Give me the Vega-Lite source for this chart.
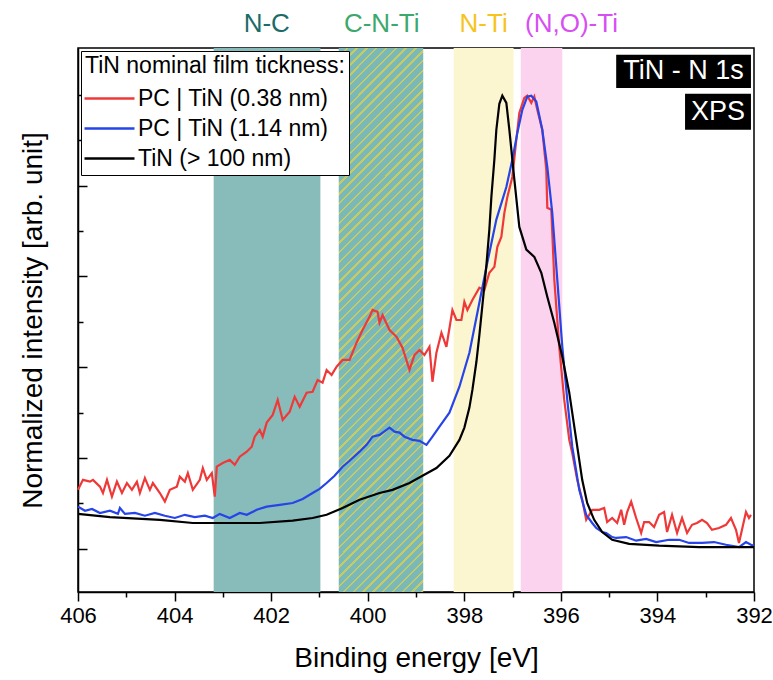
{
"$schema": "https://vega.github.io/schema/vega-lite/v6.json",
"width": 676, "height": 544,
"autosize": {"type": "none"},
"padding": {"left": 78, "top": 48, "right": 19, "bottom": 88},
"background": "white",
"config": {"view": {"stroke": "black", "strokeWidth": 1.5}, "axis": {"grid": false}, "font": "Liberation Sans"},
"datasets": {
"bands": [
{"band": "N-C", "start": 403.19, "end": 400.98},
{"band": "C-N-Ti", "start": 400.6, "end": 398.85},
{"band": "N-Ti", "start": 398.22, "end": 396.98},
{"band": "(N,O)-Ti", "start": 396.83, "end": 395.97}
],
"labels": [
{"label": "N-C", "energy": 402.09},
{"label": "C-N-Ti", "energy": 399.71},
{"label": "N-Ti", "energy": 397.6},
{"label": "(N,O)-Ti", "energy": 395.78}
],
"spectra": [
{"series":"PC | TiN (0.38 nm)","energy":406.000,"intensity":0.130},
{"series":"PC | TiN (0.38 nm)","energy":405.897,"intensity":0.152},
{"series":"PC | TiN (0.38 nm)","energy":405.752,"intensity":0.148},
{"series":"PC | TiN (0.38 nm)","energy":405.690,"intensity":0.152},
{"series":"PC | TiN (0.38 nm)","energy":405.545,"intensity":0.137},
{"series":"PC | TiN (0.38 nm)","energy":405.483,"intensity":0.123},
{"series":"PC | TiN (0.38 nm)","energy":405.400,"intensity":0.152},
{"series":"PC | TiN (0.38 nm)","energy":405.297,"intensity":0.115},
{"series":"PC | TiN (0.38 nm)","energy":405.194,"intensity":0.148},
{"series":"PC | TiN (0.38 nm)","energy":405.090,"intensity":0.123},
{"series":"PC | TiN (0.38 nm)","energy":404.987,"intensity":0.145},
{"series":"PC | TiN (0.38 nm)","energy":404.883,"intensity":0.130},
{"series":"PC | TiN (0.38 nm)","energy":404.780,"intensity":0.148},
{"series":"PC | TiN (0.38 nm)","energy":404.718,"intensity":0.123},
{"series":"PC | TiN (0.38 nm)","energy":404.615,"intensity":0.156},
{"series":"PC | TiN (0.38 nm)","energy":404.511,"intensity":0.130},
{"series":"PC | TiN (0.38 nm)","energy":404.449,"intensity":0.145},
{"series":"PC | TiN (0.38 nm)","energy":404.304,"intensity":0.123},
{"series":"PC | TiN (0.38 nm)","energy":404.201,"intensity":0.104},
{"series":"PC | TiN (0.38 nm)","energy":404.098,"intensity":0.130},
{"series":"PC | TiN (0.38 nm)","energy":403.953,"intensity":0.137},
{"series":"PC | TiN (0.38 nm)","energy":403.891,"intensity":0.159},
{"series":"PC | TiN (0.38 nm)","energy":403.787,"intensity":0.148},
{"series":"PC | TiN (0.38 nm)","energy":403.725,"intensity":0.167},
{"series":"PC | TiN (0.38 nm)","energy":403.622,"intensity":0.130},
{"series":"PC | TiN (0.38 nm)","energy":403.477,"intensity":0.152},
{"series":"PC | TiN (0.38 nm)","energy":403.415,"intensity":0.178},
{"series":"PC | TiN (0.38 nm)","energy":403.333,"intensity":0.152},
{"series":"PC | TiN (0.38 nm)","energy":403.229,"intensity":0.167},
{"series":"PC | TiN (0.38 nm)","energy":403.167,"intensity":0.115},
{"series":"PC | TiN (0.38 nm)","energy":403.126,"intensity":0.181},
{"series":"PC | TiN (0.38 nm)","energy":403.002,"intensity":0.189},
{"series":"PC | TiN (0.38 nm)","energy":402.857,"intensity":0.196},
{"series":"PC | TiN (0.38 nm)","energy":402.754,"intensity":0.185},
{"series":"PC | TiN (0.38 nm)","energy":402.650,"intensity":0.203},
{"series":"PC | TiN (0.38 nm)","energy":402.505,"intensity":0.214},
{"series":"PC | TiN (0.38 nm)","energy":402.402,"intensity":0.225},
{"series":"PC | TiN (0.38 nm)","energy":402.340,"intensity":0.247},
{"series":"PC | TiN (0.38 nm)","energy":402.237,"intensity":0.262},
{"series":"PC | TiN (0.38 nm)","energy":402.175,"intensity":0.247},
{"series":"PC | TiN (0.38 nm)","energy":402.092,"intensity":0.278},
{"series":"PC | TiN (0.38 nm)","energy":401.968,"intensity":0.295},
{"series":"PC | TiN (0.38 nm)","energy":401.864,"intensity":0.328},
{"series":"PC | TiN (0.38 nm)","energy":401.761,"intensity":0.284},
{"series":"PC | TiN (0.38 nm)","energy":401.616,"intensity":0.302},
{"series":"PC | TiN (0.38 nm)","energy":401.513,"intensity":0.335},
{"series":"PC | TiN (0.38 nm)","energy":401.409,"intensity":0.313},
{"series":"PC | TiN (0.38 nm)","energy":401.265,"intensity":0.344},
{"series":"PC | TiN (0.38 nm)","energy":401.141,"intensity":0.346},
{"series":"PC | TiN (0.38 nm)","energy":401.037,"intensity":0.372},
{"series":"PC | TiN (0.38 nm)","energy":400.934,"intensity":0.366},
{"series":"PC | TiN (0.38 nm)","energy":400.851,"intensity":0.394},
{"series":"PC | TiN (0.38 nm)","energy":400.748,"intensity":0.383},
{"series":"PC | TiN (0.38 nm)","energy":400.644,"intensity":0.401},
{"series":"PC | TiN (0.38 nm)","energy":400.520,"intensity":0.416},
{"series":"PC | TiN (0.38 nm)","energy":400.376,"intensity":0.416},
{"series":"PC | TiN (0.38 nm)","energy":400.231,"intensity":0.454},
{"series":"PC | TiN (0.38 nm)","energy":400.107,"intensity":0.482},
{"series":"PC | TiN (0.38 nm)","energy":399.962,"intensity":0.511},
{"series":"PC | TiN (0.38 nm)","energy":399.900,"intensity":0.526},
{"series":"PC | TiN (0.38 nm)","energy":399.797,"intensity":0.522},
{"series":"PC | TiN (0.38 nm)","energy":399.755,"intensity":0.498},
{"series":"PC | TiN (0.38 nm)","energy":399.693,"intensity":0.515},
{"series":"PC | TiN (0.38 nm)","energy":399.548,"intensity":0.482},
{"series":"PC | TiN (0.38 nm)","energy":399.404,"intensity":0.467},
{"series":"PC | TiN (0.38 nm)","energy":399.280,"intensity":0.443},
{"series":"PC | TiN (0.38 nm)","energy":399.135,"intensity":0.394},
{"series":"PC | TiN (0.38 nm)","energy":399.031,"intensity":0.427},
{"series":"PC | TiN (0.38 nm)","energy":398.928,"intensity":0.438},
{"series":"PC | TiN (0.38 nm)","energy":398.825,"intensity":0.427},
{"series":"PC | TiN (0.38 nm)","energy":398.721,"intensity":0.445},
{"series":"PC | TiN (0.38 nm)","energy":398.659,"intensity":0.368},
{"series":"PC | TiN (0.38 nm)","energy":398.577,"intensity":0.432},
{"series":"PC | TiN (0.38 nm)","energy":398.473,"intensity":0.476},
{"series":"PC | TiN (0.38 nm)","energy":398.370,"intensity":0.445},
{"series":"PC | TiN (0.38 nm)","energy":398.246,"intensity":0.526},
{"series":"PC | TiN (0.38 nm)","energy":398.163,"intensity":0.504},
{"series":"PC | TiN (0.38 nm)","energy":398.060,"intensity":0.504},
{"series":"PC | TiN (0.38 nm)","energy":397.998,"intensity":0.544},
{"series":"PC | TiN (0.38 nm)","energy":397.935,"intensity":0.526},
{"series":"PC | TiN (0.38 nm)","energy":397.832,"intensity":0.548},
{"series":"PC | TiN (0.38 nm)","energy":397.687,"intensity":0.575},
{"series":"PC | TiN (0.38 nm)","energy":397.584,"intensity":0.570},
{"series":"PC | TiN (0.38 nm)","energy":397.481,"intensity":0.608},
{"series":"PC | TiN (0.38 nm)","energy":397.377,"intensity":0.621},
{"series":"PC | TiN (0.38 nm)","energy":397.315,"intensity":0.665},
{"series":"PC | TiN (0.38 nm)","energy":397.233,"intensity":0.687},
{"series":"PC | TiN (0.38 nm)","energy":397.170,"intensity":0.740},
{"series":"PC | TiN (0.38 nm)","energy":397.108,"intensity":0.775},
{"series":"PC | TiN (0.38 nm)","energy":397.005,"intensity":0.819},
{"series":"PC | TiN (0.38 nm)","energy":396.922,"intensity":0.901},
{"series":"PC | TiN (0.38 nm)","energy":396.860,"intensity":0.960},
{"series":"PC | TiN (0.38 nm)","energy":396.757,"intensity":0.993},
{"series":"PC | TiN (0.38 nm)","energy":396.695,"intensity":0.998},
{"series":"PC | TiN (0.38 nm)","energy":396.612,"intensity":0.982},
{"series":"PC | TiN (0.38 nm)","energy":396.550,"intensity":0.996},
{"series":"PC | TiN (0.38 nm)","energy":396.488,"intensity":0.967},
{"series":"PC | TiN (0.38 nm)","energy":396.385,"intensity":0.923},
{"series":"PC | TiN (0.38 nm)","energy":396.302,"intensity":0.835},
{"series":"PC | TiN (0.38 nm)","energy":396.281,"intensity":0.751},
{"series":"PC | TiN (0.38 nm)","energy":396.198,"intensity":0.747},
{"series":"PC | TiN (0.38 nm)","energy":396.136,"intensity":0.593},
{"series":"PC | TiN (0.38 nm)","energy":396.033,"intensity":0.445},
{"series":"PC | TiN (0.38 nm)","energy":395.930,"intensity":0.328},
{"series":"PC | TiN (0.38 nm)","energy":395.826,"intensity":0.240},
{"series":"PC | TiN (0.38 nm)","energy":395.764,"intensity":0.211},
{"series":"PC | TiN (0.38 nm)","energy":395.661,"intensity":0.152},
{"series":"PC | TiN (0.38 nm)","energy":395.558,"intensity":0.108},
{"series":"PC | TiN (0.38 nm)","energy":395.475,"intensity":0.064},
{"series":"PC | TiN (0.38 nm)","energy":395.351,"intensity":0.086},
{"series":"PC | TiN (0.38 nm)","energy":395.206,"intensity":0.086},
{"series":"PC | TiN (0.38 nm)","energy":395.103,"intensity":0.090},
{"series":"PC | TiN (0.38 nm)","energy":395.041,"intensity":0.059},
{"series":"PC | TiN (0.38 nm)","energy":394.937,"intensity":0.068},
{"series":"PC | TiN (0.38 nm)","energy":394.834,"intensity":0.057},
{"series":"PC | TiN (0.38 nm)","energy":394.751,"intensity":0.086},
{"series":"PC | TiN (0.38 nm)","energy":394.689,"intensity":0.053},
{"series":"PC | TiN (0.38 nm)","energy":394.627,"intensity":0.081},
{"series":"PC | TiN (0.38 nm)","energy":394.544,"intensity":0.104},
{"series":"PC | TiN (0.38 nm)","energy":394.441,"intensity":0.068},
{"series":"PC | TiN (0.38 nm)","energy":394.337,"intensity":0.035},
{"series":"PC | TiN (0.38 nm)","energy":394.275,"intensity":0.059},
{"series":"PC | TiN (0.38 nm)","energy":394.172,"intensity":0.059},
{"series":"PC | TiN (0.38 nm)","energy":394.069,"intensity":0.048},
{"series":"PC | TiN (0.38 nm)","energy":393.965,"intensity":0.075},
{"series":"PC | TiN (0.38 nm)","energy":393.862,"intensity":0.081},
{"series":"PC | TiN (0.38 nm)","energy":393.800,"intensity":0.037},
{"series":"PC | TiN (0.38 nm)","energy":393.697,"intensity":0.075},
{"series":"PC | TiN (0.38 nm)","energy":393.593,"intensity":0.035},
{"series":"PC | TiN (0.38 nm)","energy":393.490,"intensity":0.068},
{"series":"PC | TiN (0.38 nm)","energy":393.386,"intensity":0.035},
{"series":"PC | TiN (0.38 nm)","energy":393.283,"intensity":0.053},
{"series":"PC | TiN (0.38 nm)","energy":393.180,"intensity":0.057},
{"series":"PC | TiN (0.38 nm)","energy":393.076,"intensity":0.064},
{"series":"PC | TiN (0.38 nm)","energy":392.973,"intensity":0.057},
{"series":"PC | TiN (0.38 nm)","energy":392.870,"intensity":0.042},
{"series":"PC | TiN (0.38 nm)","energy":392.725,"intensity":0.046},
{"series":"PC | TiN (0.38 nm)","energy":392.580,"intensity":0.053},
{"series":"PC | TiN (0.38 nm)","energy":392.477,"intensity":0.068},
{"series":"PC | TiN (0.38 nm)","energy":392.373,"intensity":0.042},
{"series":"PC | TiN (0.38 nm)","energy":392.311,"intensity":0.013},
{"series":"PC | TiN (0.38 nm)","energy":392.249,"intensity":0.042},
{"series":"PC | TiN (0.38 nm)","energy":392.166,"intensity":0.081},
{"series":"PC | TiN (0.38 nm)","energy":392.104,"intensity":0.068},
{"series":"PC | TiN (0.38 nm)","energy":392.063,"intensity":0.075},
{"series":"PC | TiN (1.14 nm)","energy":406.000,"intensity":0.093},
{"series":"PC | TiN (1.14 nm)","energy":405.855,"intensity":0.084},
{"series":"PC | TiN (1.14 nm)","energy":405.710,"intensity":0.088},
{"series":"PC | TiN (1.14 nm)","energy":405.545,"intensity":0.079},
{"series":"PC | TiN (1.14 nm)","energy":405.338,"intensity":0.084},
{"series":"PC | TiN (1.14 nm)","energy":405.173,"intensity":0.077},
{"series":"PC | TiN (1.14 nm)","energy":405.132,"intensity":0.090},
{"series":"PC | TiN (1.14 nm)","energy":405.028,"intensity":0.077},
{"series":"PC | TiN (1.14 nm)","energy":404.821,"intensity":0.079},
{"series":"PC | TiN (1.14 nm)","energy":404.615,"intensity":0.073},
{"series":"PC | TiN (1.14 nm)","energy":404.408,"intensity":0.079},
{"series":"PC | TiN (1.14 nm)","energy":404.201,"intensity":0.073},
{"series":"PC | TiN (1.14 nm)","energy":403.994,"intensity":0.068},
{"series":"PC | TiN (1.14 nm)","energy":403.787,"intensity":0.075},
{"series":"PC | TiN (1.14 nm)","energy":403.581,"intensity":0.070},
{"series":"PC | TiN (1.14 nm)","energy":403.374,"intensity":0.073},
{"series":"PC | TiN (1.14 nm)","energy":403.208,"intensity":0.068},
{"series":"PC | TiN (1.14 nm)","energy":403.064,"intensity":0.077},
{"series":"PC | TiN (1.14 nm)","energy":402.857,"intensity":0.068},
{"series":"PC | TiN (1.14 nm)","energy":402.650,"intensity":0.079},
{"series":"PC | TiN (1.14 nm)","energy":402.505,"intensity":0.075},
{"series":"PC | TiN (1.14 nm)","energy":402.299,"intensity":0.086},
{"series":"PC | TiN (1.14 nm)","energy":402.092,"intensity":0.093},
{"series":"PC | TiN (1.14 nm)","energy":401.823,"intensity":0.097},
{"series":"PC | TiN (1.14 nm)","energy":401.554,"intensity":0.101},
{"series":"PC | TiN (1.14 nm)","energy":401.347,"intensity":0.110},
{"series":"PC | TiN (1.14 nm)","energy":401.141,"intensity":0.123},
{"series":"PC | TiN (1.14 nm)","energy":400.996,"intensity":0.132},
{"series":"PC | TiN (1.14 nm)","energy":400.851,"intensity":0.145},
{"series":"PC | TiN (1.14 nm)","energy":400.686,"intensity":0.161},
{"series":"PC | TiN (1.14 nm)","energy":400.520,"intensity":0.181},
{"series":"PC | TiN (1.14 nm)","energy":400.376,"intensity":0.194},
{"series":"PC | TiN (1.14 nm)","energy":400.169,"intensity":0.214},
{"series":"PC | TiN (1.14 nm)","energy":400.024,"intensity":0.229},
{"series":"PC | TiN (1.14 nm)","energy":399.900,"intensity":0.247},
{"series":"PC | TiN (1.14 nm)","energy":399.755,"intensity":0.251},
{"series":"PC | TiN (1.14 nm)","energy":399.548,"intensity":0.267},
{"series":"PC | TiN (1.14 nm)","energy":399.445,"intensity":0.258},
{"series":"PC | TiN (1.14 nm)","energy":399.342,"intensity":0.256},
{"series":"PC | TiN (1.14 nm)","energy":399.238,"intensity":0.247},
{"series":"PC | TiN (1.14 nm)","energy":399.073,"intensity":0.240},
{"series":"PC | TiN (1.14 nm)","energy":398.928,"intensity":0.238},
{"series":"PC | TiN (1.14 nm)","energy":398.783,"intensity":0.229},
{"series":"PC | TiN (1.14 nm)","energy":398.659,"intensity":0.247},
{"series":"PC | TiN (1.14 nm)","energy":398.514,"intensity":0.269},
{"series":"PC | TiN (1.14 nm)","energy":398.308,"intensity":0.300},
{"series":"PC | TiN (1.14 nm)","energy":398.101,"intensity":0.357},
{"series":"PC | TiN (1.14 nm)","energy":397.894,"intensity":0.432},
{"series":"PC | TiN (1.14 nm)","energy":397.729,"intensity":0.520},
{"series":"PC | TiN (1.14 nm)","energy":397.541,"intensity":0.621},
{"series":"PC | TiN (1.14 nm)","energy":397.336,"intensity":0.725},
{"series":"PC | TiN (1.14 nm)","energy":397.129,"intensity":0.797},
{"series":"PC | TiN (1.14 nm)","energy":397.005,"intensity":0.857},
{"series":"PC | TiN (1.14 nm)","energy":396.901,"intensity":0.916},
{"series":"PC | TiN (1.14 nm)","energy":396.798,"intensity":0.967},
{"series":"PC | TiN (1.14 nm)","energy":396.695,"intensity":0.996},
{"series":"PC | TiN (1.14 nm)","energy":396.612,"intensity":0.998},
{"series":"PC | TiN (1.14 nm)","energy":396.509,"intensity":0.985},
{"series":"PC | TiN (1.14 nm)","energy":396.385,"intensity":0.923},
{"series":"PC | TiN (1.14 nm)","energy":396.281,"intensity":0.841},
{"series":"PC | TiN (1.14 nm)","energy":396.178,"intensity":0.740},
{"series":"PC | TiN (1.14 nm)","energy":396.074,"intensity":0.593},
{"series":"PC | TiN (1.14 nm)","energy":395.970,"intensity":0.445},
{"series":"PC | TiN (1.14 nm)","energy":395.867,"intensity":0.328},
{"series":"PC | TiN (1.14 nm)","energy":395.764,"intensity":0.225},
{"series":"PC | TiN (1.14 nm)","energy":395.619,"intensity":0.130},
{"series":"PC | TiN (1.14 nm)","energy":395.475,"intensity":0.075},
{"series":"PC | TiN (1.14 nm)","energy":395.351,"intensity":0.057},
{"series":"PC | TiN (1.14 nm)","energy":395.268,"intensity":0.046},
{"series":"PC | TiN (1.14 nm)","energy":395.144,"intensity":0.037},
{"series":"PC | TiN (1.14 nm)","energy":395.061,"intensity":0.035},
{"series":"PC | TiN (1.14 nm)","energy":394.937,"intensity":0.026},
{"series":"PC | TiN (1.14 nm)","energy":394.855,"intensity":0.024},
{"series":"PC | TiN (1.14 nm)","energy":394.648,"intensity":0.026},
{"series":"PC | TiN (1.14 nm)","energy":394.441,"intensity":0.018},
{"series":"PC | TiN (1.14 nm)","energy":394.234,"intensity":0.022},
{"series":"PC | TiN (1.14 nm)","energy":394.027,"intensity":0.015},
{"series":"PC | TiN (1.14 nm)","energy":393.758,"intensity":0.020},
{"series":"PC | TiN (1.14 nm)","energy":393.551,"intensity":0.020},
{"series":"PC | TiN (1.14 nm)","energy":393.345,"intensity":0.013},
{"series":"PC | TiN (1.14 nm)","energy":393.076,"intensity":0.013},
{"series":"PC | TiN (1.14 nm)","energy":392.828,"intensity":0.015},
{"series":"PC | TiN (1.14 nm)","energy":392.580,"intensity":0.009},
{"series":"PC | TiN (1.14 nm)","energy":392.311,"intensity":0.004},
{"series":"PC | TiN (1.14 nm)","energy":392.166,"intensity":0.015},
{"series":"PC | TiN (1.14 nm)","energy":392.063,"intensity":0.009},
{"series":"PC | TiN (1.14 nm)","energy":392.000,"intensity":0.007},
{"series":"TiN (> 100 nm)","energy":406.000,"intensity":0.077},
{"series":"TiN (> 100 nm)","energy":405.338,"intensity":0.070},
{"series":"TiN (> 100 nm)","energy":404.304,"intensity":0.064},
{"series":"TiN (> 100 nm)","energy":403.622,"intensity":0.057},
{"series":"TiN (> 100 nm)","energy":403.126,"intensity":0.057},
{"series":"TiN (> 100 nm)","energy":402.237,"intensity":0.057},
{"series":"TiN (> 100 nm)","energy":401.554,"intensity":0.062},
{"series":"TiN (> 100 nm)","energy":401.141,"intensity":0.068},
{"series":"TiN (> 100 nm)","energy":400.851,"intensity":0.075},
{"series":"TiN (> 100 nm)","energy":400.520,"intensity":0.090},
{"series":"TiN (> 100 nm)","energy":400.169,"intensity":0.108},
{"series":"TiN (> 100 nm)","energy":399.755,"intensity":0.123},
{"series":"TiN (> 100 nm)","energy":399.486,"intensity":0.130},
{"series":"TiN (> 100 nm)","energy":399.135,"intensity":0.145},
{"series":"TiN (> 100 nm)","energy":398.866,"intensity":0.161},
{"series":"TiN (> 100 nm)","energy":398.577,"intensity":0.178},
{"series":"TiN (> 100 nm)","energy":398.308,"intensity":0.205},
{"series":"TiN (> 100 nm)","energy":398.101,"intensity":0.240},
{"series":"TiN (> 100 nm)","energy":397.998,"intensity":0.267},
{"series":"TiN (> 100 nm)","energy":397.894,"intensity":0.311},
{"series":"TiN (> 100 nm)","energy":397.832,"intensity":0.350},
{"series":"TiN (> 100 nm)","energy":397.749,"intensity":0.412},
{"series":"TiN (> 100 nm)","energy":397.687,"intensity":0.471},
{"series":"TiN (> 100 nm)","energy":397.604,"intensity":0.559},
{"series":"TiN (> 100 nm)","energy":397.541,"intensity":0.626},
{"series":"TiN (> 100 nm)","energy":397.481,"intensity":0.703},
{"series":"TiN (> 100 nm)","energy":397.439,"intensity":0.775},
{"series":"TiN (> 100 nm)","energy":397.377,"intensity":0.857},
{"series":"TiN (> 100 nm)","energy":397.336,"intensity":0.923},
{"series":"TiN (> 100 nm)","energy":397.274,"intensity":0.980},
{"series":"TiN (> 100 nm)","energy":397.212,"intensity":0.998},
{"series":"TiN (> 100 nm)","energy":397.129,"intensity":0.982},
{"series":"TiN (> 100 nm)","energy":397.067,"intensity":0.923},
{"series":"TiN (> 100 nm)","energy":396.963,"intensity":0.813},
{"series":"TiN (> 100 nm)","energy":396.860,"intensity":0.709},
{"series":"TiN (> 100 nm)","energy":396.715,"intensity":0.659},
{"series":"TiN (> 100 nm)","energy":396.550,"intensity":0.643},
{"series":"TiN (> 100 nm)","energy":396.405,"intensity":0.608},
{"series":"TiN (> 100 nm)","energy":396.281,"intensity":0.555},
{"series":"TiN (> 100 nm)","energy":396.136,"intensity":0.498},
{"series":"TiN (> 100 nm)","energy":395.970,"intensity":0.423},
{"series":"TiN (> 100 nm)","energy":395.826,"intensity":0.344},
{"series":"TiN (> 100 nm)","energy":395.681,"intensity":0.240},
{"series":"TiN (> 100 nm)","energy":395.558,"intensity":0.152},
{"series":"TiN (> 100 nm)","energy":395.455,"intensity":0.101},
{"series":"TiN (> 100 nm)","energy":395.310,"intensity":0.064},
{"series":"TiN (> 100 nm)","energy":395.144,"intensity":0.037},
{"series":"TiN (> 100 nm)","energy":394.937,"intensity":0.020},
{"series":"TiN (> 100 nm)","energy":394.586,"intensity":0.011},
{"series":"TiN (> 100 nm)","energy":393.965,"intensity":0.007},
{"series":"TiN (> 100 nm)","energy":393.138,"intensity":0.004},
{"series":"TiN (> 100 nm)","energy":392.000,"intensity":0.004}
]
},
"resolve": {"scale": {"color": "independent"}, "axis": {"x": "independent", "y": "independent"}},
"layer": [
{
"data": {"name": "bands"},
"transform": [{"filter": "datum.band !== 'C-N-Ti'"}],
"mark": {"type": "rect"},
"encoding": {
"x": {"field": "start", "type": "quantitative", "scale": {"domain": [392, 406], "reverse": true, "nice": false, "zero": false},
"axis": {"orient": "bottom", "values": [405, 403, 401, 399, 397, 395, 393], "tickSize": 5, "tickWidth": 1.5, "tickColor": "black", "domain": false, "labels": false, "title": null, "grid": false}},
"x2": {"field": "end"},
"color": {"field": "band", "type": "nominal", "scale": {"domain": ["N-C", "N-Ti", "(N,O)-Ti"], "range": ["#88bcbb", "#fcf6d0", "#fbd3ee"]}, "legend": null}
}
},
{
"data": {"name": "bands"},
"transform": [{"filter": "datum.band === 'C-N-Ti'"}],
"mark": {"type": "rect", "fill": {"gradient": "linear", "x1": 0, "y1": 0, "x2": 0.1755, "y2": 1.1282, "stops": [
{"offset":0,"color":"#7ab9b8"},{"offset":0.0117,"color":"#7ab9b8"},{"offset":0.0117,"color":"#c6cc63"},{"offset":0.015625,"color":"#c6cc63"},
{"offset":0.015625,"color":"#7ab9b8"},{"offset":0.027325,"color":"#7ab9b8"},{"offset":0.027325,"color":"#c6cc63"},{"offset":0.03125,"color":"#c6cc63"},
{"offset":0.03125,"color":"#7ab9b8"},{"offset":0.04295,"color":"#7ab9b8"},{"offset":0.04295,"color":"#c6cc63"},{"offset":0.046875,"color":"#c6cc63"},
{"offset":0.046875,"color":"#7ab9b8"},{"offset":0.058575,"color":"#7ab9b8"},{"offset":0.058575,"color":"#c6cc63"},{"offset":0.0625,"color":"#c6cc63"},
{"offset":0.0625,"color":"#7ab9b8"},{"offset":0.0742,"color":"#7ab9b8"},{"offset":0.0742,"color":"#c6cc63"},{"offset":0.078125,"color":"#c6cc63"},
{"offset":0.078125,"color":"#7ab9b8"},{"offset":0.089825,"color":"#7ab9b8"},{"offset":0.089825,"color":"#c6cc63"},{"offset":0.09375,"color":"#c6cc63"},
{"offset":0.09375,"color":"#7ab9b8"},{"offset":0.10545,"color":"#7ab9b8"},{"offset":0.10545,"color":"#c6cc63"},{"offset":0.109375,"color":"#c6cc63"},
{"offset":0.109375,"color":"#7ab9b8"},{"offset":0.121075,"color":"#7ab9b8"},{"offset":0.121075,"color":"#c6cc63"},{"offset":0.125,"color":"#c6cc63"},
{"offset":0.125,"color":"#7ab9b8"},{"offset":0.1367,"color":"#7ab9b8"},{"offset":0.1367,"color":"#c6cc63"},{"offset":0.140625,"color":"#c6cc63"},
{"offset":0.140625,"color":"#7ab9b8"},{"offset":0.152325,"color":"#7ab9b8"},{"offset":0.152325,"color":"#c6cc63"},{"offset":0.15625,"color":"#c6cc63"},
{"offset":0.15625,"color":"#7ab9b8"},{"offset":0.16795,"color":"#7ab9b8"},{"offset":0.16795,"color":"#c6cc63"},{"offset":0.171875,"color":"#c6cc63"},
{"offset":0.171875,"color":"#7ab9b8"},{"offset":0.183575,"color":"#7ab9b8"},{"offset":0.183575,"color":"#c6cc63"},{"offset":0.1875,"color":"#c6cc63"},
{"offset":0.1875,"color":"#7ab9b8"},{"offset":0.1992,"color":"#7ab9b8"},{"offset":0.1992,"color":"#c6cc63"},{"offset":0.203125,"color":"#c6cc63"},
{"offset":0.203125,"color":"#7ab9b8"},{"offset":0.214825,"color":"#7ab9b8"},{"offset":0.214825,"color":"#c6cc63"},{"offset":0.21875,"color":"#c6cc63"},
{"offset":0.21875,"color":"#7ab9b8"},{"offset":0.23045,"color":"#7ab9b8"},{"offset":0.23045,"color":"#c6cc63"},{"offset":0.234375,"color":"#c6cc63"},
{"offset":0.234375,"color":"#7ab9b8"},{"offset":0.246075,"color":"#7ab9b8"},{"offset":0.246075,"color":"#c6cc63"},{"offset":0.25,"color":"#c6cc63"},
{"offset":0.25,"color":"#7ab9b8"},{"offset":0.2617,"color":"#7ab9b8"},{"offset":0.2617,"color":"#c6cc63"},{"offset":0.265625,"color":"#c6cc63"},
{"offset":0.265625,"color":"#7ab9b8"},{"offset":0.277325,"color":"#7ab9b8"},{"offset":0.277325,"color":"#c6cc63"},{"offset":0.28125,"color":"#c6cc63"},
{"offset":0.28125,"color":"#7ab9b8"},{"offset":0.29295,"color":"#7ab9b8"},{"offset":0.29295,"color":"#c6cc63"},{"offset":0.296875,"color":"#c6cc63"},
{"offset":0.296875,"color":"#7ab9b8"},{"offset":0.308575,"color":"#7ab9b8"},{"offset":0.308575,"color":"#c6cc63"},{"offset":0.3125,"color":"#c6cc63"},
{"offset":0.3125,"color":"#7ab9b8"},{"offset":0.3242,"color":"#7ab9b8"},{"offset":0.3242,"color":"#c6cc63"},{"offset":0.328125,"color":"#c6cc63"},
{"offset":0.328125,"color":"#7ab9b8"},{"offset":0.339825,"color":"#7ab9b8"},{"offset":0.339825,"color":"#c6cc63"},{"offset":0.34375,"color":"#c6cc63"},
{"offset":0.34375,"color":"#7ab9b8"},{"offset":0.35545,"color":"#7ab9b8"},{"offset":0.35545,"color":"#c6cc63"},{"offset":0.359375,"color":"#c6cc63"},
{"offset":0.359375,"color":"#7ab9b8"},{"offset":0.371075,"color":"#7ab9b8"},{"offset":0.371075,"color":"#c6cc63"},{"offset":0.375,"color":"#c6cc63"},
{"offset":0.375,"color":"#7ab9b8"},{"offset":0.3867,"color":"#7ab9b8"},{"offset":0.3867,"color":"#c6cc63"},{"offset":0.390625,"color":"#c6cc63"},
{"offset":0.390625,"color":"#7ab9b8"},{"offset":0.402325,"color":"#7ab9b8"},{"offset":0.402325,"color":"#c6cc63"},{"offset":0.40625,"color":"#c6cc63"},
{"offset":0.40625,"color":"#7ab9b8"},{"offset":0.41795,"color":"#7ab9b8"},{"offset":0.41795,"color":"#c6cc63"},{"offset":0.421875,"color":"#c6cc63"},
{"offset":0.421875,"color":"#7ab9b8"},{"offset":0.433575,"color":"#7ab9b8"},{"offset":0.433575,"color":"#c6cc63"},{"offset":0.4375,"color":"#c6cc63"},
{"offset":0.4375,"color":"#7ab9b8"},{"offset":0.4492,"color":"#7ab9b8"},{"offset":0.4492,"color":"#c6cc63"},{"offset":0.453125,"color":"#c6cc63"},
{"offset":0.453125,"color":"#7ab9b8"},{"offset":0.464825,"color":"#7ab9b8"},{"offset":0.464825,"color":"#c6cc63"},{"offset":0.46875,"color":"#c6cc63"},
{"offset":0.46875,"color":"#7ab9b8"},{"offset":0.48045,"color":"#7ab9b8"},{"offset":0.48045,"color":"#c6cc63"},{"offset":0.484375,"color":"#c6cc63"},
{"offset":0.484375,"color":"#7ab9b8"},{"offset":0.496075,"color":"#7ab9b8"},{"offset":0.496075,"color":"#c6cc63"},{"offset":0.5,"color":"#c6cc63"},
{"offset":0.5,"color":"#7ab9b8"},{"offset":0.5117,"color":"#7ab9b8"},{"offset":0.5117,"color":"#c6cc63"},{"offset":0.515625,"color":"#c6cc63"},
{"offset":0.515625,"color":"#7ab9b8"},{"offset":0.527325,"color":"#7ab9b8"},{"offset":0.527325,"color":"#c6cc63"},{"offset":0.53125,"color":"#c6cc63"},
{"offset":0.53125,"color":"#7ab9b8"},{"offset":0.54295,"color":"#7ab9b8"},{"offset":0.54295,"color":"#c6cc63"},{"offset":0.546875,"color":"#c6cc63"},
{"offset":0.546875,"color":"#7ab9b8"},{"offset":0.558575,"color":"#7ab9b8"},{"offset":0.558575,"color":"#c6cc63"},{"offset":0.5625,"color":"#c6cc63"},
{"offset":0.5625,"color":"#7ab9b8"},{"offset":0.5742,"color":"#7ab9b8"},{"offset":0.5742,"color":"#c6cc63"},{"offset":0.578125,"color":"#c6cc63"},
{"offset":0.578125,"color":"#7ab9b8"},{"offset":0.589825,"color":"#7ab9b8"},{"offset":0.589825,"color":"#c6cc63"},{"offset":0.59375,"color":"#c6cc63"},
{"offset":0.59375,"color":"#7ab9b8"},{"offset":0.60545,"color":"#7ab9b8"},{"offset":0.60545,"color":"#c6cc63"},{"offset":0.609375,"color":"#c6cc63"},
{"offset":0.609375,"color":"#7ab9b8"},{"offset":0.621075,"color":"#7ab9b8"},{"offset":0.621075,"color":"#c6cc63"},{"offset":0.625,"color":"#c6cc63"},
{"offset":0.625,"color":"#7ab9b8"},{"offset":0.6367,"color":"#7ab9b8"},{"offset":0.6367,"color":"#c6cc63"},{"offset":0.640625,"color":"#c6cc63"},
{"offset":0.640625,"color":"#7ab9b8"},{"offset":0.652325,"color":"#7ab9b8"},{"offset":0.652325,"color":"#c6cc63"},{"offset":0.65625,"color":"#c6cc63"},
{"offset":0.65625,"color":"#7ab9b8"},{"offset":0.66795,"color":"#7ab9b8"},{"offset":0.66795,"color":"#c6cc63"},{"offset":0.671875,"color":"#c6cc63"},
{"offset":0.671875,"color":"#7ab9b8"},{"offset":0.683575,"color":"#7ab9b8"},{"offset":0.683575,"color":"#c6cc63"},{"offset":0.6875,"color":"#c6cc63"},
{"offset":0.6875,"color":"#7ab9b8"},{"offset":0.6992,"color":"#7ab9b8"},{"offset":0.6992,"color":"#c6cc63"},{"offset":0.703125,"color":"#c6cc63"},
{"offset":0.703125,"color":"#7ab9b8"},{"offset":0.714825,"color":"#7ab9b8"},{"offset":0.714825,"color":"#c6cc63"},{"offset":0.71875,"color":"#c6cc63"},
{"offset":0.71875,"color":"#7ab9b8"},{"offset":0.73045,"color":"#7ab9b8"},{"offset":0.73045,"color":"#c6cc63"},{"offset":0.734375,"color":"#c6cc63"},
{"offset":0.734375,"color":"#7ab9b8"},{"offset":0.746075,"color":"#7ab9b8"},{"offset":0.746075,"color":"#c6cc63"},{"offset":0.75,"color":"#c6cc63"},
{"offset":0.75,"color":"#7ab9b8"},{"offset":0.7617,"color":"#7ab9b8"},{"offset":0.7617,"color":"#c6cc63"},{"offset":0.765625,"color":"#c6cc63"},
{"offset":0.765625,"color":"#7ab9b8"},{"offset":0.777325,"color":"#7ab9b8"},{"offset":0.777325,"color":"#c6cc63"},{"offset":0.78125,"color":"#c6cc63"},
{"offset":0.78125,"color":"#7ab9b8"},{"offset":0.79295,"color":"#7ab9b8"},{"offset":0.79295,"color":"#c6cc63"},{"offset":0.796875,"color":"#c6cc63"},
{"offset":0.796875,"color":"#7ab9b8"},{"offset":0.808575,"color":"#7ab9b8"},{"offset":0.808575,"color":"#c6cc63"},{"offset":0.8125,"color":"#c6cc63"},
{"offset":0.8125,"color":"#7ab9b8"},{"offset":0.8242,"color":"#7ab9b8"},{"offset":0.8242,"color":"#c6cc63"},{"offset":0.828125,"color":"#c6cc63"},
{"offset":0.828125,"color":"#7ab9b8"},{"offset":0.839825,"color":"#7ab9b8"},{"offset":0.839825,"color":"#c6cc63"},{"offset":0.84375,"color":"#c6cc63"},
{"offset":0.84375,"color":"#7ab9b8"},{"offset":0.85545,"color":"#7ab9b8"},{"offset":0.85545,"color":"#c6cc63"},{"offset":0.859375,"color":"#c6cc63"},
{"offset":0.859375,"color":"#7ab9b8"},{"offset":0.871075,"color":"#7ab9b8"},{"offset":0.871075,"color":"#c6cc63"},{"offset":0.875,"color":"#c6cc63"},
{"offset":0.875,"color":"#7ab9b8"},{"offset":0.8867,"color":"#7ab9b8"},{"offset":0.8867,"color":"#c6cc63"},{"offset":0.890625,"color":"#c6cc63"},
{"offset":0.890625,"color":"#7ab9b8"},{"offset":0.902325,"color":"#7ab9b8"},{"offset":0.902325,"color":"#c6cc63"},{"offset":0.90625,"color":"#c6cc63"},
{"offset":0.90625,"color":"#7ab9b8"},{"offset":0.91795,"color":"#7ab9b8"},{"offset":0.91795,"color":"#c6cc63"},{"offset":0.921875,"color":"#c6cc63"},
{"offset":0.921875,"color":"#7ab9b8"},{"offset":0.933575,"color":"#7ab9b8"},{"offset":0.933575,"color":"#c6cc63"},{"offset":0.9375,"color":"#c6cc63"},
{"offset":0.9375,"color":"#7ab9b8"},{"offset":0.9492,"color":"#7ab9b8"},{"offset":0.9492,"color":"#c6cc63"},{"offset":0.953125,"color":"#c6cc63"},
{"offset":0.953125,"color":"#7ab9b8"},{"offset":0.964825,"color":"#7ab9b8"},{"offset":0.964825,"color":"#c6cc63"},{"offset":0.96875,"color":"#c6cc63"},
{"offset":0.96875,"color":"#7ab9b8"},{"offset":0.98045,"color":"#7ab9b8"},{"offset":0.98045,"color":"#c6cc63"},{"offset":0.984375,"color":"#c6cc63"},
{"offset":0.984375,"color":"#7ab9b8"},{"offset":0.996075,"color":"#7ab9b8"},{"offset":0.996075,"color":"#c6cc63"},{"offset":1,"color":"#c6cc63"}
]}},
"encoding": {
"x": {"field": "start", "type": "quantitative", "scale": {"domain": [392, 406], "reverse": true, "nice": false, "zero": false}, "axis": null},
"x2": {"field": "end"}
}
},
{
"data": {"name": "spectra"},
"mark": {"type": "line", "strokeWidth": 2.2},
"encoding": {
"x": {"field": "energy", "type": "quantitative", "scale": {"domain": [392, 406], "reverse": true, "nice": false, "zero": false},
"axis": {"orient": "bottom", "values": [406, 404, 402, 400, 398, 396, 394, 392], "format": "d", "tickSize": 9, "tickWidth": 1.5, "tickColor": "black", "domainColor": "black", "domainWidth": 1.5, "labelFont": "Liberation Sans", "labelFontSize": 22, "labelColor": "black", "labelPadding": 4, "labelFlush": false, "labelOverlap": false, "title": "Binding energy [eV]", "titleFont": "Liberation Sans", "titleFontSize": 28, "titleFontWeight": "normal", "titleColor": "black", "titlePadding": 18, "grid": false}},
"y": {"field": "intensity", "type": "quantitative", "scale": {"domain": [-0.095, 1.103], "nice": false, "zero": false},
"axis": {"orient": "left", "values": [0, 0.2, 0.4, 0.6, 0.8, 1.0], "tickSize": -9, "tickWidth": 1.5, "tickColor": "black", "domainColor": "black", "domainWidth": 1.5, "labels": false, "title": "Normalized intensity [arb. unit]", "titleFont": "Liberation Sans", "titleFontSize": 28, "titleFontWeight": "normal", "titleColor": "black", "titlePadding": 30, "grid": false}},
"color": {"field": "series", "type": "nominal",
"scale": {"domain": ["PC | TiN (0.38 nm)", "PC | TiN (1.14 nm)", "TiN (> 100 nm)"], "range": ["#ef3838", "#2644e8", "#000000"]},
"legend": {"title": "TiN nominal film tickness:", "orient": "top-left", "offset": 3, "fillColor": "white", "strokeColor": "black", "padding": 4, "titleFont": "Liberation Sans", "titleFontSize": 23, "titleFontWeight": "normal", "titleColor": "black", "titlePadding": 9, "titleLimit": 400, "labelFont": "Liberation Sans", "labelFontSize": 23, "labelColor": "black", "labelLimit": 400, "labelOffset": 17, "symbolType": "M-2.5,0H2.5", "symbolSize": 400, "symbolOffset": 13, "symbolStrokeWidth": 2.5, "rowPadding": 6}}
}
},
{
"data": {"name": "labels"},
"mark": {"type": "text", "font": "Liberation Sans", "fontSize": 26, "baseline": "middle", "align": "center"},
"encoding": {
"x": {"field": "energy", "type": "quantitative", "scale": {"domain": [392, 406], "reverse": true, "nice": false, "zero": false}, "axis": null},
"y": {"datum": 1.156, "type": "quantitative", "scale": {"domain": [-0.095, 1.103], "nice": false, "zero": false},
"axis": {"orient": "left", "values": [0.1, 0.3, 0.5, 0.7, 0.9], "tickSize": -5, "tickWidth": 1.5, "tickColor": "black", "domain": false, "labels": false, "title": null, "grid": false}},
"text": {"field": "label"},
"color": {"field": "label", "type": "nominal", "scale": {"domain": ["N-C", "C-N-Ti", "N-Ti", "(N,O)-Ti"], "range": ["#1c6b69", "#3ca86c", "#f6c41c", "#d74ef2"]}, "legend": null}
}
},
{
"data": {"values": [{}]},
"mark": {"type": "rect", "fill": "black"},
"encoding": {
"x": {"datum": 394.854, "type": "quantitative", "scale": {"domain": [392, 406], "reverse": true, "nice": false, "zero": false}, "axis": null},
"x2": {"datum": 392.063},
"y": {"datum": 1.088, "type": "quantitative", "scale": {"domain": [-0.095, 1.103], "nice": false, "zero": false}, "axis": null},
"y2": {"datum": 1.015}
}
},
{
"data": {"values": [{}]},
"mark": {"type": "text", "text": "TiN - N 1s", "font": "Liberation Sans", "fontSize": 27, "fill": "white", "baseline": "middle", "align": "center"},
"encoding": {
"x": {"datum": 393.46, "type": "quantitative", "scale": {"domain": [392, 406], "reverse": true, "nice": false, "zero": false}, "axis": null},
"y": {"datum": 1.052, "type": "quantitative", "scale": {"domain": [-0.095, 1.103], "nice": false, "zero": false}, "axis": null}
}
},
{
"data": {"values": [{}]},
"mark": {"type": "rect", "fill": "black"},
"encoding": {
"x": {"datum": 393.428, "type": "quantitative", "scale": {"domain": [392, 406], "reverse": true, "nice": false, "zero": false}, "axis": null},
"x2": {"datum": 392.063},
"y": {"datum": 1.002, "type": "quantitative", "scale": {"domain": [-0.095, 1.103], "nice": false, "zero": false}, "axis": null},
"y2": {"datum": 0.923}
}
},
{
"data": {"values": [{}]},
"mark": {"type": "text", "text": "XPS", "font": "Liberation Sans", "fontSize": 27, "fill": "white", "baseline": "middle", "align": "center"},
"encoding": {
"x": {"datum": 392.745, "type": "quantitative", "scale": {"domain": [392, 406], "reverse": true, "nice": false, "zero": false}, "axis": null},
"y": {"datum": 0.963, "type": "quantitative", "scale": {"domain": [-0.095, 1.103], "nice": false, "zero": false}, "axis": null}
}
}
]
}
